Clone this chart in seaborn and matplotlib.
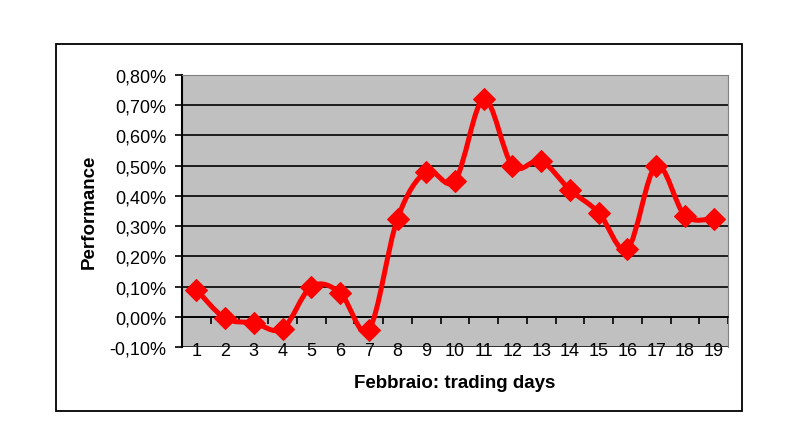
import matplotlib
matplotlib.use("Agg")
import matplotlib.pyplot as plt
import seaborn as sns
import numpy as np
import pandas as pd
from matplotlib.path import Path
from matplotlib.patches import PathPatch, Rectangle
from matplotlib.ticker import FuncFormatter, FixedLocator

days = list(range(1, 20))
performance = [0.09, -0.005, -0.02, -0.04, 0.10, 0.08, -0.043, 0.325, 0.48, 0.45,
               0.72, 0.50, 0.515, 0.42, 0.345, 0.225, 0.50, 0.335, 0.325]
y_ticks = [-0.1, 0.0, 0.1, 0.2, 0.3, 0.4, 0.5, 0.6, 0.7, 0.8]
x_label = "Febbraio: trading days"
y_label = "Performance"

df = pd.DataFrame({"day": days, "perf": performance})

sns.set_theme(style="white")
plt.rcParams['font.family'] = ['Liberation Sans', 'DejaVu Sans']
plt.rcParams['text.color'] = 'black'
plt.rcParams['axes.labelcolor'] = 'black'

fig = plt.figure(figsize=(8.1, 4.31), dpi=100)
fig.patch.set_facecolor("white")
fig.add_artist(Rectangle((56/810, 1-412/431), (742-56)/810, (412-45)/431,
                         transform=fig.transFigure, fill=False, edgecolor="black", lw=1.3))
ax = fig.add_axes([182/810, 1-348/431, (728-182)/810, (348-76)/431])
ax.set_facecolor("#C0C0C0")

# smooth curve (Excel-style Catmull-Rom bezier)
xs = np.array(df["day"], dtype=float)
ys = np.array(df["perf"], dtype=float)
n = len(xs)
verts = [(xs[0], ys[0])]
codes = [Path.MOVETO]
for i in range(n - 1):
    p0 = (xs[i-1], ys[i-1]) if i > 0 else (xs[i], ys[i])
    p1 = (xs[i], ys[i])
    p2 = (xs[i+1], ys[i+1])
    p3 = (xs[i+2], ys[i+2]) if i + 2 < n else (xs[i+1], ys[i+1])
    c1 = (p1[0] + (p2[0]-p0[0])/6, p1[1] + (p2[1]-p0[1])/6)
    c2 = (p2[0] - (p3[0]-p1[0])/6, p2[1] - (p3[1]-p1[1])/6)
    verts += [c1, c2, p2]
    codes += [Path.CURVE4]*3
ax.add_patch(PathPatch(Path(verts, codes), fill=False, edgecolor="#FF0000", lw=3.6,
                       capstyle="round", joinstyle="round", zorder=4))

sns.lineplot(data=df, x="day", y="perf", ax=ax, marker="D", markersize=11,
             color="#FF0000", markeredgecolor="#FF0000", linewidth=0, zorder=5)

ax.set_xlim(0.5, 19.5)
ax.set_ylim(-0.1, 0.8)
ax.yaxis.set_major_locator(FixedLocator(y_ticks))
ax.yaxis.set_major_formatter(FuncFormatter(lambda v, p: f"{v:.2f}%".replace(".", ",")))
ax.grid(axis="y", color="black", lw=1.2)
ax.set_axisbelow(True)

ax.xaxis.set_major_locator(FixedLocator(days))
ax.set_xticklabels([str(d) for d in days])
ax.xaxis.set_minor_locator(FixedLocator([d + 0.5 for d in [0] + days]))
ax.spines["bottom"].set_position(("data", 0))
ax.spines["bottom"].set_color("black")
ax.spines["bottom"].set_linewidth(1.2)
ax.spines["left"].set_color("black")
ax.spines["left"].set_linewidth(1.5)
for s in ["top", "right"]:
    ax.spines[s].set_color("#808080")
    ax.spines[s].set_linewidth(0.8)
ax.axhline(-0.1, color="#808080", lw=1.0, zorder=1)

ax.tick_params(axis="x", which="major", length=0, pad=18, labelsize=13, colors="black")
ax.tick_params(axis="x", which="minor", length=5, width=1.2, direction="out", color="black", bottom=True)
ax.tick_params(axis="y", length=5, width=1.2, direction="out", left=True, pad=6, labelsize=13, colors="black")

ax.set_xlabel(x_label, fontsize=13.5, fontweight="bold", color="black")
ax.set_ylabel(y_label, fontsize=13.5, fontweight="bold", color="black")
ax.xaxis.set_label_coords(0.5, -0.1)
ax.yaxis.set_label_coords(-0.155, 0.5)

fig.savefig("out.png", dpi=100)
